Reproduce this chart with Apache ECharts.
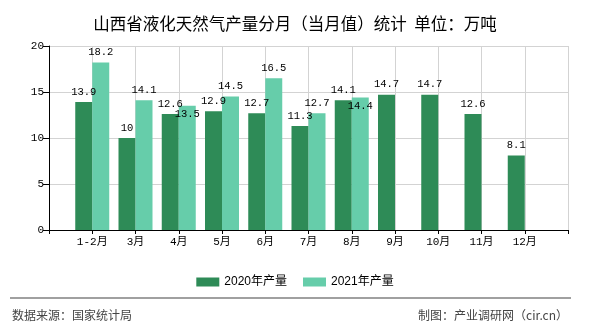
<!DOCTYPE html>
<html>
<head>
<meta charset="utf-8">
<script src="https://cdn.jsdelivr.net/npm/echarts@6/dist/echarts.min.js"></script>
<style>
html,body{margin:0;padding:0;background:#fff;}
#chart{width:590px;height:330px;}
</style>
</head>
<body>
<div id="chart"></div>
<script>
// ---- data ----
const titleText = '山西省液化天然气产量分月（当月值）统计  单位：万吨';
const months = ['1-2月','3月','4月','5月','6月','7月','8月','9月','10月','11月','12月'];
const output2020 = [13.9, 10, 12.6, 12.9, 12.7, 11.3, 14.1, 14.7, 14.7, 12.6, 8.1];
const output2021 = [18.2, 14.1, 13.5, 14.5, 16.5, 12.7, 14.4, null, null, null, null];
const seriesNames = ['2020年产量', '2021年产量'];
const yMin = 0, yMax = 20, yStep = 5;
const sourceText = '数据来源：国家统计局';
const makerText = '制图：产业调研网（cir.cn）';
// labels of these months sit inside the 2021 bar (as in the reference)
const insideLabelMonths = ['4月', '8月'];

// ---- build ----
const axisCats = [''].concat(months, ['']);
const data2020 = [null].concat(output2020, [null]);
const data2021 = [null].concat(output2021.map(function (v, i) {
  if (v !== null && insideLabelMonths.indexOf(months[i]) >= 0) {
    return { value: v, label: { position: 'insideTop', distance: 3 } };
  }
  return v;
}), [null]);

const monoFont = "'Liberation Mono', 'Noto Sans CJK SC', monospace";
const sansFont = "'Liberation Sans', 'Noto Sans CJK SC', sans-serif";
const cjkFont = "'Noto Sans CJK SC', sans-serif";

const chart = echarts.init(document.getElementById('chart'), null, { renderer: 'canvas' });
const barLabel = {
  show: true,
  position: 'top',
  distance: 5,
  color: '#000',
  fontSize: 10.5,
  fontFamily: monoFont
};
chart.setOption({
  animation: false,
  backgroundColor: '#fff',
  title: {
    text: titleText,
    left: 'center',
    top: 10,
    textStyle: { fontSize: 16.5, fontWeight: 'normal', color: '#000', fontFamily: cjkFont }
  },
  legend: {
    data: seriesNames,
    top: 271,
    left: 'center',
    itemWidth: 23,
    itemHeight: 9,
    itemGap: 16,
    icon: 'rect',
    textStyle: { fontSize: 12, color: '#000', fontFamily: sansFont, padding: [0, 0, 0, 0] }
  },
  grid: { left: 49, right: 22, top: 46, bottom: 100, containLabel: false },
  xAxis: {
    type: 'category',
    data: axisCats,
    boundaryGap: false,
    axisLine: { show: true, lineStyle: { color: '#000', width: 1 } },
    axisTick: { show: true, interval: 0, length: 4, lineStyle: { color: '#000' } },
    axisLabel: { interval: 0, margin: 7, color: '#000', fontSize: 11, fontFamily: monoFont },
    splitLine: { show: true, interval: 0, lineStyle: { color: '#d3d3d3', width: 1 } }
  },
  yAxis: {
    type: 'value',
    min: yMin,
    max: yMax,
    interval: yStep,
    axisLine: { show: true, lineStyle: { color: '#000', width: 1 } },
    axisTick: { show: true, length: 6, lineStyle: { color: '#000' } },
    axisLabel: { margin: 5, color: '#000', fontSize: 11, fontFamily: monoFont },
    splitLine: { show: true, lineStyle: { color: '#d3d3d3', width: 1 } }
  },
  series: [
    {
      name: seriesNames[0],
      type: 'bar',
      data: data2020,
      barWidth: 17,
      barGap: '0%',
      itemStyle: { color: '#2e8b57' },
      label: barLabel
    },
    {
      name: seriesNames[1],
      type: 'bar',
      data: data2021,
      barWidth: 17,
      barGap: '0%',
      itemStyle: { color: '#66cdaa' },
      label: barLabel
    }
  ],
  graphic: [
    {
      type: 'line',
      shape: { x1: 10, y1: 298, x2: 571, y2: 298 },
      style: { stroke: '#808080', lineWidth: 1.5 }
    },
    {
      type: 'text',
      left: 12,
      top: 309,
      style: { text: sourceText, fontSize: 12, fill: '#444', fontFamily: cjkFont }
    },
    {
      type: 'text',
      right: 22,
      top: 309,
      style: { text: makerText, fontSize: 12, fill: '#444', fontFamily: cjkFont }
    }
  ]
});
</script>
</body>
</html>
